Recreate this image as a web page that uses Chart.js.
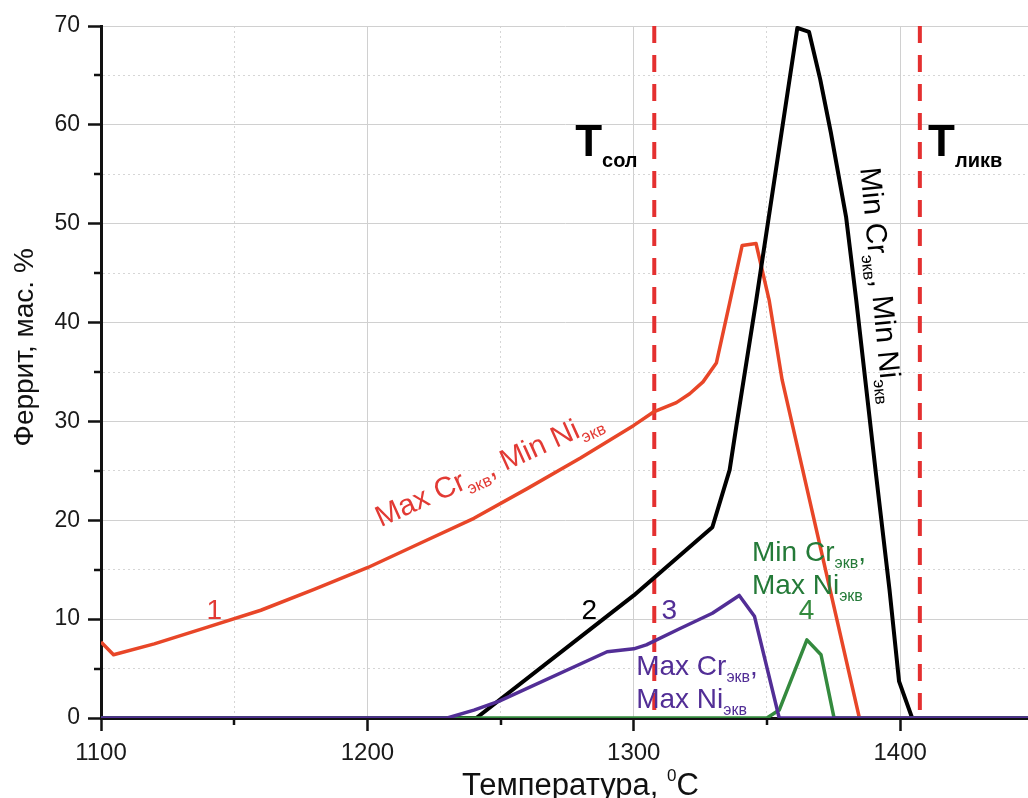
<!DOCTYPE html>
<html>
<head>
<meta charset="utf-8">
<script src="https://cdn.jsdelivr.net/npm/chart.js@4.4.0/dist/chart.umd.min.js"></script>
<style>
  body { margin: 0; background: #fff; }
  #wrap { width: 1028px; height: 798px; }
</style>
</head>
<body>
<div id="wrap"><canvas id="ferriteChart" width="1028" height="798"></canvas></div>
<script>
// curve 1: Max Cr_экв, Min Ni_экв
const tempMaxCrMinNi = [1100, 1104.7, 1120, 1140, 1160, 1180, 1200, 1220, 1240, 1260, 1280, 1300, 1307.7, 1316, 1321, 1326, 1331, 1336, 1340.7, 1345.9, 1350.8, 1355.7, 1384.7, 1448];
const ferMaxCrMinNi  = [7.7, 6.4, 7.5, 9.2, 10.9, 13.0, 15.2, 17.7, 20.2, 23.2, 26.3, 29.6, 31.0, 31.9, 32.8, 34.0, 35.9, 42.0, 47.8, 48.0, 42.3, 34.2, 0, 0];

// curve 2: Min Cr_экв, Min Ni_экв
const tempMinCrMinNi = [1100, 1240.9, 1300, 1329.5, 1336, 1338.5, 1346, 1361.4, 1365.8, 1370, 1374, 1379.7, 1383.5, 1391, 1396, 1399.6, 1404.5, 1448];
const ferMinCrMinNi  = [0, 0, 12.4, 19.3, 25.1, 29.5, 42.3, 69.8, 69.4, 64.6, 59.2, 50.7, 42.3, 24.5, 13.0, 3.7, 0, 0];

// curve 3: Max Cr_экв, Max Ni_экв
const tempMaxCrMaxNi = [1100, 1230, 1240, 1249.5, 1290, 1300, 1304.7, 1317, 1329.5, 1339.6, 1345.3, 1354.6, 1448];
const ferMaxCrMaxNi  = [0, 0, 0.8, 1.7, 6.7, 7.0, 7.4, 9.0, 10.6, 12.4, 10.3, 0, 0];

// curve 4: Min Cr_экв, Max Ni_экв
const tempMinCrMaxNi = [1100, 1350, 1354.6, 1365, 1370.3, 1375.2, 1448];
const ferMinCrMaxNi  = [0, 0, 0.8, 7.9, 6.4, 0, 0];

// solidus / liquidus
const tSol = 1307.7;
const tLiq = 1407.4;

const xTicks = [1100, 1150, 1200, 1250, 1300, 1350, 1400];
const xMin = 1100, xMax = 1448;
const yMin = 0, yMax = 70;

const RED = 'rgb(232,70,40)';
const RED_TXT = 'rgb(226,58,52)';
const DASH_RED = 'rgb(228,48,48)';
const PURPLE = 'rgb(82,46,150)';
const GREEN = 'rgb(52,138,62)';
const GREEN_TXT = 'rgb(36,122,56)';
const FONT = '"Liberation Sans", Arial, sans-serif';

function pts(xs, ys) {
  return xs.map((x, i) => ({x: x, y: ys[i]}));
}

// text annotations: runs written as "Cr_{экв}" for subscripts
const notes = [
  {x: 1139.6, y: 10.0, text: '1', color: RED_TXT},
  {x: 1280.4, y: 10.0, text: '2', color: '#000'},
  {x: 1310.4, y: 10.0, text: '3', color: PURPLE},
  {x: 1361.9, y: 10.0, text: '4', color: GREEN},
  {x: 1205.0, y: 19.3, text: 'Max Cr_{экв}, Min Ni_{экв}', color: RED_TXT, angle: -24.3, size: 29.5},
  {x: 1385.0, y: 55.6, text: 'Min Cr_{экв}, Min Ni_{экв}', color: '#000', angle: 84.5, size: 29.5},
  {x: 1300.9, y: 4.4, text: 'Max Cr_{экв},', color: PURPLE},
  {x: 1300.9, y: 1.05, text: 'Max Ni_{экв}', color: PURPLE},
  {x: 1344.4, y: 15.9, text: 'Min Cr_{экв},', color: GREEN_TXT},
  {x: 1344.4, y: 12.5, text: 'Max Ni_{экв}', color: GREEN_TXT},
  {x: 1278.0, y: 56.8, text: 'T_{сол}', color: '#000', big: true},
  {x: 1410.5, y: 56.8, text: 'T_{ликв}', color: '#000', big: true}
];

function drawRuns(ctx, n, x, y) {
  const size = n.size || 28;
  const mainFont = n.big ? 'bold 44px ' + FONT : size + 'px ' + FONT;
  const subFont = n.big ? 'bold 20px ' + FONT : Math.round(size * 0.57) + 'px ' + FONT;
  const subShift = n.big ? 11 : 7;
  const parts = n.text.split(/_\{([^}]*)\}/);
  ctx.save();
  ctx.translate(x, y);
  ctx.rotate((n.angle || 0) * Math.PI / 180);
  ctx.fillStyle = n.color;
  ctx.textBaseline = 'alphabetic';
  ctx.textAlign = 'left';
  let cx = 0;
  parts.forEach((p, i) => {
    if (!p) return;
    const sub = i % 2 === 1;
    ctx.font = sub ? subFont : mainFont;
    ctx.fillText(p, cx, sub ? subShift : 0);
    cx += ctx.measureText(p).width;
  });
  ctx.restore();
}

const annotate = {
  id: 'annotate',
  afterDraw(chart) {
    const {ctx, chartArea, scales: {x, y}} = chart;

    // short minor tick marks
    ctx.save();
    ctx.strokeStyle = '#111';
    ctx.lineWidth = 2.5;
    ctx.beginPath();
    xTicks.forEach(v => {
      if (v % 100 === 0) return;
      const px = Math.round(x.getPixelForValue(v));
      ctx.moveTo(px, chartArea.bottom);
      ctx.lineTo(px, chartArea.bottom + 7);
    });
    for (let v = 5; v < yMax; v += 10) {
      const py = Math.round(y.getPixelForValue(v));
      ctx.moveTo(chartArea.left, py);
      ctx.lineTo(chartArea.left - 7, py);
    }
    ctx.stroke();
    ctx.restore();

    notes.forEach(n => {
      drawRuns(ctx, n, x.getPixelForValue(n.x), y.getPixelForValue(n.y));
    });

    // axis titles
    ctx.save();
    ctx.fillStyle = '#111';
    ctx.font = '28px ' + FONT;
    ctx.textAlign = 'center';
    ctx.textBaseline = 'middle';
    ctx.translate(25, y.getPixelForValue(37.5));
    ctx.rotate(-Math.PI / 2);
    ctx.fillText('Феррит, мас. %', 0, 0);
    ctx.restore();

    ctx.save();
    ctx.fillStyle = '#111';
    ctx.textBaseline = 'alphabetic';
    const main = 'Температура, ';
    ctx.font = '31px ' + FONT;
    const w1 = ctx.measureText(main).width;
    const wC = ctx.measureText('C').width;
    ctx.font = '17px ' + FONT;
    const w0 = ctx.measureText('0').width;
    let tx = x.getPixelForValue(1280) - (w1 + w0 + wC) / 2;
    const by = chartArea.bottom + 77;
    ctx.font = '31px ' + FONT;
    ctx.fillText(main, tx, by);
    tx += w1;
    ctx.font = '17px ' + FONT;
    ctx.fillText('0', tx, by - 14);
    tx += w0;
    ctx.font = '31px ' + FONT;
    ctx.fillText('C', tx, by);
    ctx.restore();
  }
};

const isMajorX = v => v % 100 === 0;
const isMajorY = v => v % 10 === 0;

new Chart(document.getElementById('ferriteChart'), {
  type: 'scatter',
  data: {
    datasets: [
      {data: pts(tempMaxCrMaxNi, ferMaxCrMaxNi), borderColor: PURPLE, borderWidth: 3.5, order: 0},
      {data: pts(tempMinCrMaxNi, ferMinCrMaxNi), borderColor: GREEN, borderWidth: 3.5, order: 1},
      {data: pts(tempMinCrMinNi, ferMinCrMinNi), borderColor: '#000', borderWidth: 4, order: 2},
      {data: pts(tempMaxCrMinNi, ferMaxCrMinNi), borderColor: RED, borderWidth: 3.5, order: 3},
      {data: [{x: tSol, y: yMax}, {x: tSol, y: yMin}], borderColor: DASH_RED, borderWidth: 4, borderDash: [17, 12], order: 4},
      {data: [{x: tLiq, y: yMax}, {x: tLiq, y: yMin}], borderColor: DASH_RED, borderWidth: 4, borderDash: [17, 12], order: 4}
    ]
  },
  options: {
    responsive: false,
    animation: false,
    showLine: true,
    elements: {
      point: {radius: 0, hoverRadius: 0},
      line: {tension: 0, borderJoinStyle: 'round', borderCapStyle: 'butt'}
    },
    layout: {padding: {top: 26, right: 0, left: 0, bottom: 0}},
    plugins: {legend: {display: false}, tooltip: {enabled: false}},
    scales: {
      x: {
        type: 'linear',
        min: xMin,
        max: xMax,
        afterBuildTicks: scale => { scale.ticks = xTicks.map(v => ({value: v})); },
        afterFit: scale => { scale.height = 80; },
        ticks: {
          autoSkip: false,
          maxRotation: 0,
          padding: 8,
          color: '#1a1a1a',
          font: {family: FONT, size: 24},
          callback: v => isMajorX(v) ? String(v) : ''
        },
        grid: {
          color: ctx => ctx.tick && isMajorX(ctx.tick.value) ? '#d0d0d0' : '#d6d6d6',
          lineWidth: 1,
          tickLength: 13,
          tickWidth: 2.5,
          tickColor: ctx => ctx.tick && isMajorX(ctx.tick.value) ? '#111' : 'rgba(0,0,0,0)'
        },
        border: {
          color: '#111',
          width: 3,
          dash: ctx => (ctx.tick && !isMajorX(ctx.tick.value)) ? [2, 3] : []
        }
      },
      y: {
        type: 'linear',
        min: yMin,
        max: yMax,
        afterFit: scale => { scale.width = 101; },
        ticks: {
          stepSize: 5,
          padding: 8,
          color: '#1a1a1a',
          font: {family: FONT, size: 23},
          callback: v => isMajorY(v) ? String(v) : ''
        },
        grid: {
          color: ctx => ctx.tick && isMajorY(ctx.tick.value) ? '#d0d0d0' : '#d6d6d6',
          lineWidth: 1,
          tickLength: 13,
          tickWidth: 2.5,
          tickColor: ctx => ctx.tick && isMajorY(ctx.tick.value) ? '#111' : 'rgba(0,0,0,0)'
        },
        border: {
          color: '#111',
          width: 3,
          dash: ctx => (ctx.tick && !isMajorY(ctx.tick.value)) ? [2, 3] : []
        }
      }
    }
  },
  plugins: [annotate]
});
</script>
</body>
</html>
